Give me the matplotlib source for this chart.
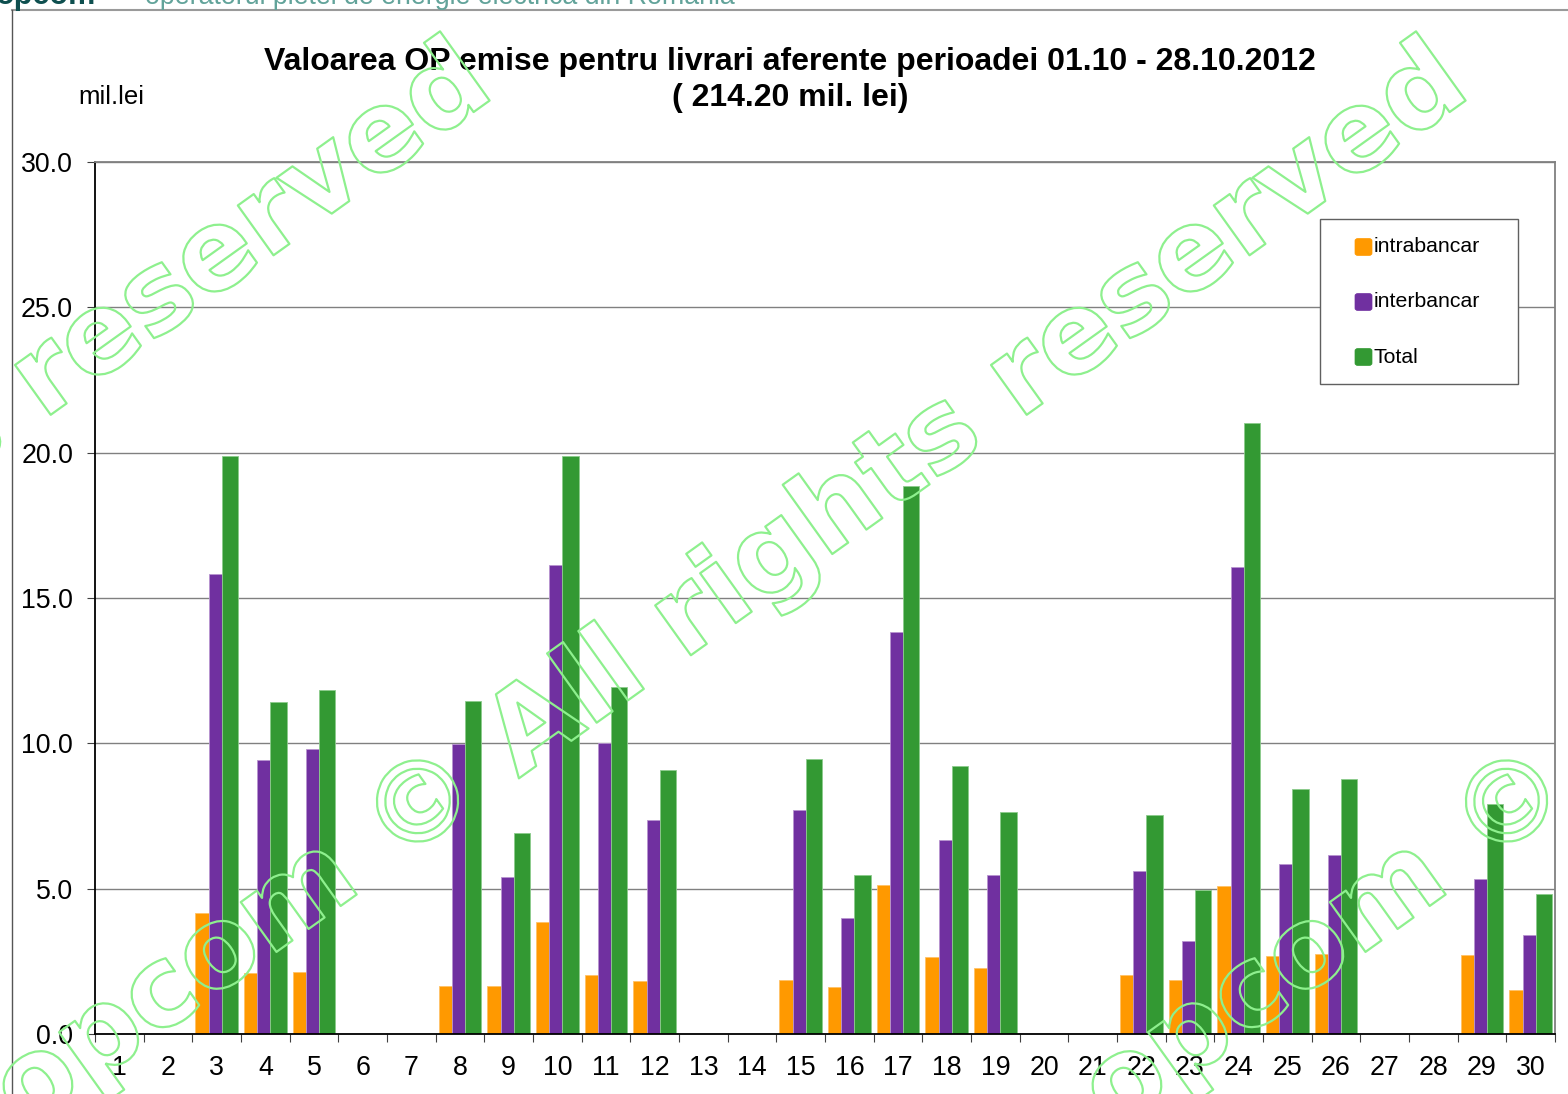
import numpy as np
import matplotlib
matplotlib.use("Agg")
import matplotlib.pyplot as plt
from matplotlib.patches import Rectangle, FancyBboxPatch
from matplotlib.lines import Line2D
import matplotlib.patheffects as pe

plt.rcParams['font.family'] = ['Liberation Sans', 'DejaVu Sans']

# ---------------- data ----------------
days = [str(d) for d in range(1, 31)]
intrabancar = [0, 0, 4.18, 2.10, 2.14, 0, 0, 1.64, 1.65, 3.85, 2.03, 1.81, 0, 0,
               1.85, 1.60, 5.12, 2.64, 2.26, 0, 0, 2.02, 1.86, 5.08, 2.67, 2.75,
               0, 0, 2.71, 1.53]
interbancar = [0, 0, 15.81, 9.44, 9.82, 0, 0, 9.96, 5.40, 16.14, 10.02, 7.37, 0, 0,
               7.70, 3.99, 13.84, 6.69, 5.48, 0, 0, 5.62, 3.21, 16.05, 5.86, 6.15,
               0, 0, 5.34, 3.40]
total = [0, 0, 19.88, 11.41, 11.84, 0, 0, 11.47, 6.93, 19.88, 11.95, 9.09, 0, 0,
         9.46, 5.48, 18.87, 9.22, 7.65, 0, 0, 7.53, 4.97, 21.03, 8.42, 8.77,
         0, 0, 7.92, 4.82]
series_names = ['intrabancar', 'interbancar', 'Total']
yticks = [0, 5, 10, 15, 20, 25, 30]
title_line1 = 'Valoarea OP emise pentru livrari aferente perioadei 01.10 - 28.10.2012'
title_line2 = '( 214.20 mil. lei)'
unit_label = 'mil.lei'
header_brand = 'opcom'
header_text = 'operatorul pietei de energie electrica din Romania'
watermark = 'opcom \u00a9 All rights reserved'

# ---------------- style ----------------
colors = ['#FF9900', '#7030A0', '#339933']
edge_colors = ['#FFC266', '#B894D0', '#8CCB8C']
widths = [0.273, 0.273, 0.335]

W, H = 1568, 1094
fig = plt.figure(figsize=(W / 100, H / 100), dpi=100)

def fx(px):
    return px / W

def fy(py):
    return 1 - py / H

ax = fig.add_axes([fx(95), fy(1034), fx(1555) - fx(95), fy(162) - fy(1034)])

x = np.arange(len(days))
group_w = sum(widths)
values = [intrabancar, interbancar, total]
left = x - group_w / 2
for vals, w, c, ec in zip(values, widths, colors, edge_colors):
    ax.bar(left + w / 2, vals, width=w, color=c, edgecolor=ec, linewidth=0.6,
           zorder=3)
    left = left + w

ax.set_xlim(-0.5, len(days) - 0.5)
ax.set_ylim(0, 30)
ax.set_yticks(yticks)
ax.set_yticklabels([f'{v:.1f}' for v in yticks])
ax.yaxis.grid(True, color='#808080', linewidth=1.0, zorder=0)
ax.set_axisbelow(True)

ax.set_xticks(x)
ax.set_xticklabels(days)
ax.set_xticks(np.arange(-0.5, len(days)), minor=True)
ax.tick_params(axis='x', which='major', length=0, pad=15, labelsize=19.3)
ax.tick_params(axis='x', which='minor', length=5.8, width=0.8, color='#404040',
               direction='out')
ax.tick_params(axis='y', which='major', length=5.8, width=0.8, color='#404040',
               pad=10, labelsize=19.3)

for s in ['left', 'bottom']:
    ax.spines[s].set_color('black')
    ax.spines[s].set_linewidth(1.3)
for s in ['top', 'right']:
    ax.spines[s].set_color('#808080')
    ax.spines[s].set_linewidth(1.3)
ax.spines['bottom'].set_zorder(4)

# titles
fig.text(fx(790), fy(62), title_line1, ha='center', va='center',
         fontsize=23.0, fontweight='bold')
fig.text(fx(790), fy(98), title_line2, ha='center', va='center',
         fontsize=23.0, fontweight='bold')
fig.text(fx(78), fy(97), unit_label, ha='left', va='center', fontsize=18.5)

# header (partly cut off at top)
fig.text(fx(-4), fy(4), header_brand, ha='left', va='baseline', fontsize=22,
         fontweight='bold', color='#0E4F4F')
fig.text(fx(145), fy(4), header_text, ha='left', va='baseline', fontsize=19.3,
         color='#62A39A')
fig.add_artist(Line2D([fx(12), 1], [fy(10), fy(10)], color='#9A9A9A', lw=1.5))
fig.add_artist(Line2D([fx(12), fx(12)], [0, fy(10)], color='#555555', lw=1.0))

# legend (manual box)
fig.add_artist(Rectangle((fx(1320), fy(384)), fx(1518) - fx(1320),
                         fy(219) - fy(384), facecolor='white',
                         edgecolor='#606060', lw=1.0, zorder=5))
for i, (name, c) in enumerate(zip(series_names, colors)):
    cy = 247 + 55 * i
    fig.add_artist(FancyBboxPatch((fx(1355), fy(cy + 8.5)), fx(17), 17 / H,
                                  boxstyle='round,pad=0,rounding_size=0.002',
                                  facecolor=c, edgecolor=c, lw=0.5, zorder=6))
    fig.text(fx(1374), fy(cy), name, ha='left', va='center', fontsize=15.3,
             zorder=6)

# watermark copies (outlined text)
wm_color = '#8EF08E'
for cx in [731 - 976, 731, 731 + 1089]:
    fig.text(fx(cx), fy(589), watermark, family='DejaVu Sans',
             fontweight='bold', fontsize=80.7,
             rotation=35.6, rotation_mode='anchor', ha='center', va='center',
             color='none', zorder=10,
             path_effects=[pe.Stroke(linewidth=1.6, foreground=wm_color)])

fig.savefig('out.png', dpi=100)
